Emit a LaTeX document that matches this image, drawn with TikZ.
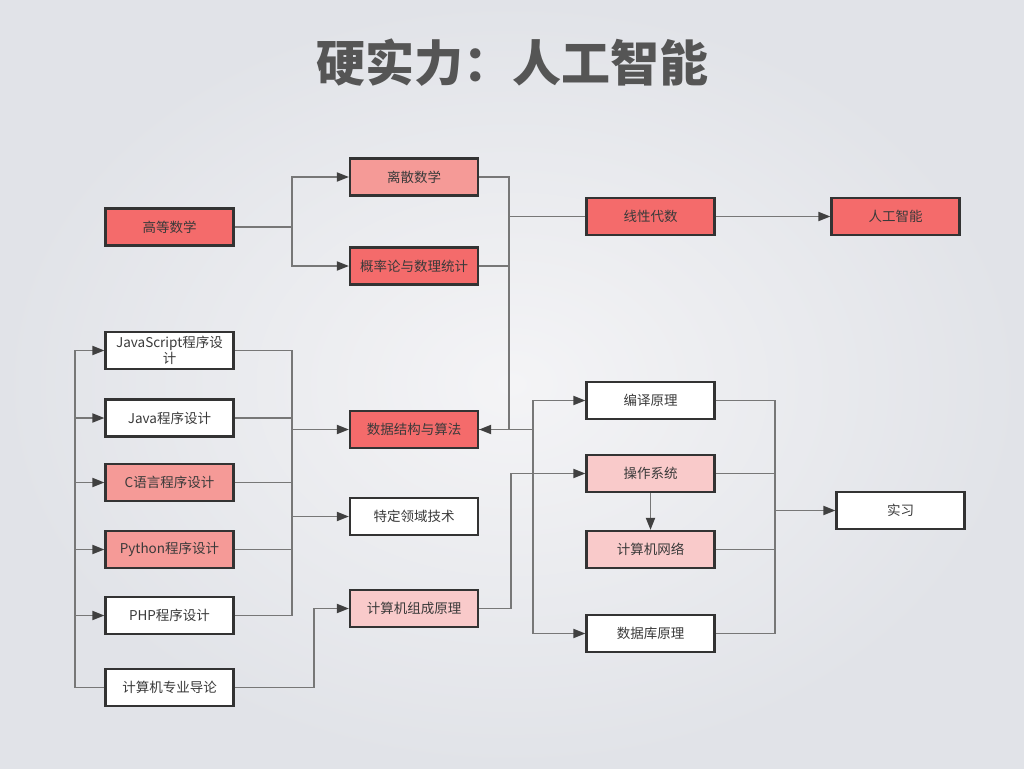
\documentclass[tikz,border=0pt]{standalone}
\usepackage{fontspec}
\setmainfont{Noto Sans CJK SC}
\usetikzlibrary{positioning, arrows.meta}
\definecolor{deepred}{HTML}{F46B6B}
\definecolor{midred}{HTML}{F59A97}
\definecolor{palered}{HTML}{F9CACA}
\definecolor{boxline}{HTML}{333333}
\definecolor{wire}{HTML}{777777}
\definecolor{tipcol}{HTML}{404040}
\definecolor{txt}{HTML}{3A3A3A}
\definecolor{titlecol}{HTML}{555555}
\definecolor{bgin}{HTML}{F4F4F6}
\definecolor{bgout}{HTML}{E1E3E8}

\begin{document}
\begin{tikzpicture}[x=1pt, y=-1pt,
    course/.style={
        draw=boxline, line width=2.2pt,
        minimum width=128pt, minimum height=37pt,
        inner sep=2pt, align=center, text=txt,
        font=\fontsize{13.5}{15.5}\selectfont
    },
    deep/.style={course, fill=deepred},
    mid/.style={course, fill=midred},
    pale/.style={course, fill=palered},
    plain/.style={course, fill=white},
    edge/.style={draw=wire, line width=1.8pt},
    arrow edge/.style={edge, -{Triangle[length=12pt, width=9pt, color=tipcol]}}
]
				
				\shade[inner color=bgin, outer color=bgout] (0,0) rectangle (1024,768);
				\useasboundingbox (0,0) rectangle (1024,768);
				
				\node[font=\fontsize{49}{52}\selectfont\bfseries, text=titlecol] (title) at (512,63) {硬实力：人工智能};
				
				\node[deep] (gs) at (169.5,227) {高等数学};
				\node[mid] (ls) at (414,177) {离散数学};
				\node[deep] (gl) at (414,266) {概率论与数理统计};
				\node[deep] (xx) at (650.5,216.5) {线性代数};
				\node[deep] (ai) at (895.5,216.5) {人工智能};
				
				\node[plain] (js) at (169.5,350.5) {JavaScript程序设\\计};
				\node[plain] (jv) at (169.5,418) {Java程序设计};
				\node[mid] (cl) at (169.5,482.5) {C语言程序设计};
				\node[mid] (py) at (169.5,549.5) {Python程序设计};
				\node[plain] (php) at (169.5,615.5) {PHP程序设计};
				\node[plain] (dl) at (169.5,687.5) {计算机专业导论};
				
				\node[deep] (ds) at (414,429.5) {数据结构与算法};
				\node[plain] (td) at (414,516.5) {特定领域技术};
				\node[pale] (zc) at (414,608.5) {计算机组成原理};
				
				\node[plain] (by) at (650.5,400.5) {编译原理};
				\node[pale] (cz) at (650.5,473.5) {操作系统};
				\node[pale] (wl) at (650.5,549.5) {计算机网络};
				\node[plain] (sk) at (650.5,633.5) {数据库原理};
				\node[plain] (sx) at (900.5,510.5) {实习};
				
				% junctions
				\coordinate (m1) at (292,227);
				\coordinate (m2) at (509,216.5);
				\coordinate (m3) at (533,429.5);
				\coordinate (m4) at (75,687.5);
				\coordinate (m5) at (292,429.5);
				\coordinate (m6) at (314,687.5);
				\coordinate (m7) at (511,608.5);
				\coordinate (m8) at (775,510.5);
				
				\draw[edge] (gs.east) -- (m1);
				\draw[arrow edge] (m1) |- (ls.west);
				\draw[arrow edge] (m1) |- (gl.west);
				
				\draw[edge] (ls.east) -| (m2);
				\draw[edge] (gl.east) -| (m2);
				\draw[edge] (m2) -- (xx.west);
				\draw[edge] (m3) -- (ds.east);
				\draw[arrow edge] (m2) |- (ds.east);
				\draw[arrow edge] (xx) -- (ai);
				
				\draw[arrow edge] (m3) |- (by.west);
				\draw[arrow edge] (m3) |- (sk.west);
				
				\draw[edge] (dl.west) -- (m4);
				\foreach \n in {js,jv,cl,py,php}
				    \draw[arrow edge] (m4) |- (\n.west);
				
				\foreach \n in {js,jv,cl,py,php}
				    \draw[edge] (\n.east) -| (m5);
				\draw[arrow edge] (m5) -- (ds.west);
				\draw[arrow edge] (m5) |- (td.west);
				
				\draw[arrow edge] (dl.east) -- (m6) |- (zc.west);
				\draw[arrow edge] (zc.east) -- (m7) |- (cz.west);
				\draw[arrow edge] (cz) -- (wl);
				
				\foreach \n in {by,cz,wl,sk}
				    \draw[edge] (\n.east) -| (m8);
				\draw[arrow edge] (m8) -- (sx.west);
				
			\end{tikzpicture}
\end{document}
